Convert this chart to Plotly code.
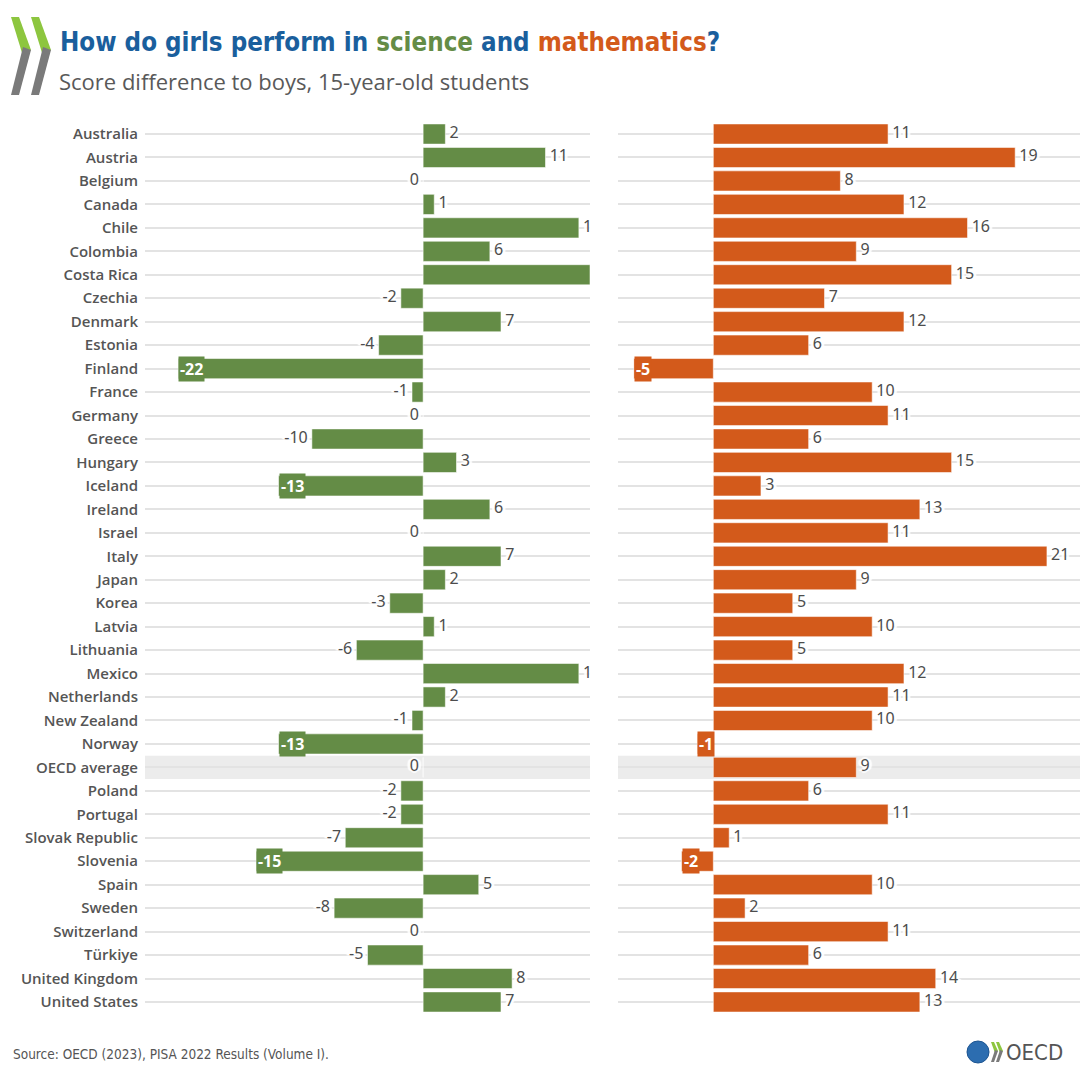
import plotly.graph_objects as go

countries = ["Australia", "Austria", "Belgium", "Canada", "Chile", "Colombia", "Costa Rica",
             "Czechia", "Denmark", "Estonia", "Finland", "France", "Germany", "Greece",
             "Hungary", "Iceland", "Ireland", "Israel", "Italy", "Japan", "Korea", "Latvia",
             "Lithuania", "Mexico", "Netherlands", "New Zealand", "Norway", "OECD average",
             "Poland", "Portugal", "Slovak Republic", "Slovenia", "Spain", "Sweden",
             "Switzerland", "Türkiye", "United Kingdom", "United States"]
science = [2, 11, 0, 1, 14, 6, 15, -2, 7, -4, -22, -1, 0, -10, 3, -13, 6, 0, 7, 2, -3, 1,
           -6, 14, 2, -1, -13, 0, -2, -2, -7, -15, 5, -8, 0, -5, 8, 7]
math = [11, 19, 8, 12, 16, 9, 15, 7, 12, 6, -5, 10, 11, 6, 15, 3, 13, 11, 21, 9, 5, 10,
        5, 12, 11, 10, -1, 9, 6, 11, 1, -2, 10, 2, 11, 6, 14, 13]
highlight = "OECD average"

GREEN = "#648c46"
ORANGE = "#d35a1b"
BLUE = "#1a5f9d"
TXT = "#4d4d4d"
W, H = 1080, 1080
NB = "\u00a0"


def px(x):
    return x / W


def py(y):
    return 1 - y / H


fig = go.Figure()

panels = [
    (science, GREEN, "x", "y", -13),
    (math, ORANGE, "x2", "y2", -0.5),
]
shadow = ("2px 0px 1px white, -2px 0px 1px white, 0px 2px 1px white, "
          "0px -2px 1px white, 3px 0px 1px white, -3px 0px 1px white")

for vals, col, xa, ya, inside_thr in panels:
    fig.add_trace(go.Bar(
        y=countries, x=vals, orientation="h", xaxis=xa, yaxis=ya,
        marker=dict(color=col, line=dict(color="rgba(255,255,255,0.55)", width=1)),
        hoverinfo="skip", showlegend=False, cliponaxis=True,
    ))
    pos_x, pos_y, pos_t = [], [], []
    neg_x, neg_y, neg_t = [], [], []
    for c, v in zip(countries, vals):
        if v > 0:
            pos_x.append(v); pos_y.append(c); pos_t.append(NB + str(v))
        elif v > inside_thr:
            neg_x.append(v); neg_y.append(c); neg_t.append(str(v) + NB)
        else:
            fig.add_annotation(
                x=v, y=c, xref=xa, yref=ya, text="<b>%d</b>" % v, showarrow=False,
                xanchor="left", yanchor="middle", xshift=0,
                font=dict(family="Noto Sans", size=16, color="white"),
                bgcolor=col, borderpad=1,
            )
    for xs, ys, ts, tp in [(pos_x, pos_y, pos_t, "middle right"),
                           (neg_x, neg_y, neg_t, "middle left")]:
        fig.add_trace(go.Scatter(
            x=xs, y=ys, text=ts, mode="text", textposition=tp,
            xaxis=xa, yaxis=ya, cliponaxis=True, hoverinfo="skip", showlegend=False,
            textfont=dict(family="Noto Sans", size=16, color=TXT, shadow=shadow),
        ))

hi = countries.index(highlight)
for xa, ya in [("x", "y"), ("x2", "y2")]:
    fig.add_shape(type="rect", xref=xa + " domain", yref=ya, x0=0, x1=1,
                  y0=hi - 0.5, y1=hi + 0.5, fillcolor="#ececec", line_width=0,
                  layer="below")

ydom = [1 - 1013.7 / H, 1 - 122.3 / H]
yrange = [len(countries) - 0.5, -0.5]
grid = dict(showgrid=True, gridcolor="#e3e3e3", gridwidth=2)
fig.update_layout(
    width=W, height=H, margin=dict(l=0, r=0, t=0, b=0),
    paper_bgcolor="white", plot_bgcolor="white", bargap=0.14,
    xaxis=dict(domain=[145 / W, 590 / W], range=[-25, 15], showgrid=False,
               zeroline=False, showticklabels=False),
    xaxis2=dict(domain=[618 / W, 1.0], range=[-6, 23.08], showgrid=False,
                zeroline=False, showticklabels=False, anchor="y2"),
    yaxis=dict(domain=ydom, categoryorder="array", categoryarray=countries,
               range=yrange, autorange=False, ticks="", ticklabelstandoff=6,
               tickfont=dict(family="Open Sans", size=15, color="#555555", weight=600),
               **grid),
    yaxis2=dict(domain=ydom, categoryorder="array", categoryarray=countries,
                range=yrange, autorange=False, anchor="x2", showticklabels=False,
                ticks="", **grid),
)

# Title and subtitle
fig.add_annotation(
    x=px(58), y=py(42), xref="paper", yref="paper", xanchor="left", yanchor="middle",
    showarrow=False,
    text=("<b>How do girls perform in <span style='color:%s'>science</span> and "
          "<span style='color:%s'>mathematics</span>?</b>") % (GREEN, ORANGE),
    font=dict(family="Liberation Sans Narrow, DejaVu Sans Condensed", size=25.7, color=BLUE),
)
fig.add_annotation(
    x=px(57), y=py(81), xref="paper", yref="paper", xanchor="left", yanchor="middle",
    showarrow=False, text="Score difference to boys, 15-year-old students",
    font=dict(family="Open Sans", size=22, color="#595959"),
)
fig.add_annotation(
    x=px(11), y=py(1054), xref="paper", yref="paper", xanchor="left", yanchor="middle",
    showarrow=False, text="Source: OECD (2023), PISA 2022 Results (Volume I).",
    font=dict(family="Liberation Sans Narrow, DejaVu Sans Condensed", size=13.5, color="#555555"),
)


def poly(points, color):
    d = "M " + " L ".join("%f,%f" % (px(a), py(b)) for a, b in points) + " Z"
    fig.add_shape(type="path", xref="paper", yref="paper", path=d,
                  fillcolor=color, line_width=0, layer="above")


# OECD chevrons (top-left)
for dx in (0, 20):
    poly([(11 + dx, 17), (19 + dx, 17), (31 + dx, 50), (23 + dx, 56)], "#8dc63f")
    poly([(23 + dx, 47), (31 + dx, 50), (19 + dx, 95), (11 + dx, 95)], "#7a7a7a")

# OECD logo (bottom-right)
fig.add_shape(type="circle", xref="paper", yref="paper",
              x0=px(967), x1=px(989), y0=py(1063), y1=py(1041),
              fillcolor="#2c6db0", line=dict(color="#1d5591", width=1))
for dx in (0, 5):
    poly([(991 + dx, 1042), (994 + dx, 1042), (998 + dx, 1051), (995 + dx, 1053)], "#8dc63f")
    poly([(995 + dx, 1050), (998 + dx, 1051), (994 + dx, 1062), (991 + dx, 1062)], "#7a7a7a")
fig.add_annotation(
    x=px(1004), y=py(1052), xref="paper", yref="paper", xanchor="left", yanchor="middle",
    showarrow=False, text="OECD",
    font=dict(family="Liberation Sans Narrow, DejaVu Sans Condensed", size=22, color="#555555"),
)

fig.write_html("out.html")
